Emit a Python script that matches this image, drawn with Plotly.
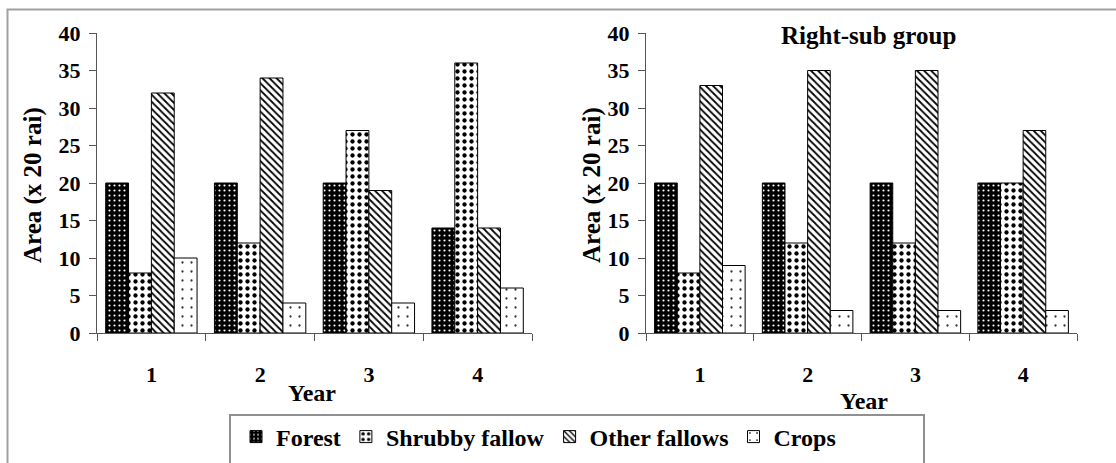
import plotly.graph_objects as go

W, H = 1116, 463
years = ["1", "2", "3", "4"]
series_names = ["Forest", "Shrubby fallow", "Other fallows", "Crops"]

left_forest = [20, 20, 20, 14]
left_shrubby = [8, 12, 27, 36]
left_other = [32, 34, 19, 14]
left_crops = [10, 4, 4, 6]

right_forest = [20, 20, 20, 20]
right_shrubby = [8, 12, 12, 20]
right_other = [33, 35, 35, 27]
right_crops = [9, 3, 3, 3]

y_ticks = [0, 5, 10, 15, 20, 25, 30, 35, 40]

FONT = "Liberation Serif, Times New Roman, serif"

patterns = [
    dict(shape=".", bgcolor="black", fgcolor="white", size=5, solidity=0.15, fillmode="replace"),
    dict(shape=".", bgcolor="white", fgcolor="black", size=7, solidity=0.3, fillmode="replace"),
    dict(shape="\\", bgcolor="white", fgcolor="black", size=5, solidity=0.35, fillmode="replace"),
    dict(shape=".", bgcolor="white", fgcolor="#333333", size=9, solidity=0.05, fillmode="replace"),
]


def px(x):
    return x / W


def py(y):
    return 1 - y / H


fig = go.Figure()
left = [left_forest, left_shrubby, left_other, left_crops]
right = [right_forest, right_shrubby, right_other, right_crops]
for i, name in enumerate(series_names):
    fig.add_trace(go.Bar(
        x=years, y=left[i], name=name, legendgroup=name, showlegend=True,
        marker=dict(color="white", pattern=patterns[i], line=dict(color="black", width=1)),
        xaxis="x", yaxis="y",
    ))
    fig.add_trace(go.Bar(
        x=years, y=right[i], name=name, legendgroup=name, showlegend=False,
        marker=dict(color="white", pattern=patterns[i], line=dict(color="black", width=1)),
        xaxis="x2", yaxis="y2",
    ))


def bold(size):
    return dict(family=FONT, size=size, color="black", weight="bold")


xcommon = dict(
    type="category", showline=True, linecolor="#555555", linewidth=1,
    ticks="outside", tickson="boundaries", ticklen=7, tickcolor="#555555",
    tickfont=bold(22), showgrid=False, zeroline=False, ticklabelstandoff=22,
    automargin=False,
)
ycommon = dict(
    range=[0, 40], tickvals=y_ticks, showline=True, linecolor="#555555", linewidth=1,
    ticks="outside", ticklen=7, tickcolor="#555555", tickfont=bold(22),
    showgrid=False, zeroline=False, ticklabelstandoff=4, automargin=False,
)

ydom = [py(333), py(33)]
fig.update_layout(
    width=W, height=H,
    margin=dict(l=0, r=0, t=0, b=0, autoexpand=False),
    paper_bgcolor="white", plot_bgcolor="white",
    font=dict(family=FONT, color="black"),
    barmode="group", bargap=0.16, bargroupgap=0,
    xaxis=dict(domain=[px(97), px(532)], anchor="y", **xcommon),
    yaxis=dict(domain=ydom, anchor="x", **ycommon),
    xaxis2=dict(domain=[px(646), px(1077)], anchor="y2", **xcommon),
    yaxis2=dict(domain=ydom, anchor="x2", **ycommon),
    showlegend=True,
    legend=dict(
        orientation="h", x=px(236), y=py(437), xanchor="left", yanchor="middle",
        font=bold(24),
        bgcolor="rgba(0,0,0,0)", borderwidth=0, traceorder="normal",
    ),
    shapes=[
        dict(type="rect", xref="paper", yref="paper", x0=px(7.5), x1=px(1400), y0=py(700), y1=py(9.5),
             line=dict(color="#a0a0a0", width=2), fillcolor="rgba(0,0,0,0)", layer="below"),
        dict(type="rect", xref="paper", yref="paper", x0=px(230), x1=px(924), y0=py(700), y1=py(415),
             line=dict(color="#909090", width=2), fillcolor="rgba(0,0,0,0)", layer="below"),
    ],
    annotations=[
        dict(text="Right-sub group", x=px(868), y=py(35), xref="paper", yref="paper",
             showarrow=False, xanchor="center", yanchor="middle", font=bold(25)),
        dict(text="Year", x=px(312), y=py(393), xref="paper", yref="paper",
             showarrow=False, xanchor="center", yanchor="middle", font=bold(24)),
        dict(text="Year", x=px(864), y=py(401), xref="paper", yref="paper",
             showarrow=False, xanchor="center", yanchor="middle", font=bold(24)),
        dict(text="Area (x 20 rai)", x=px(33), y=py(185), xref="paper", yref="paper",
             showarrow=False, xanchor="center", yanchor="middle", textangle=-90, font=bold(25)),
        dict(text="Area (x 20 rai)", x=px(592), y=py(185), xref="paper", yref="paper",
             showarrow=False, xanchor="center", yanchor="middle", textangle=-90, font=bold(25)),
    ],
)

fig.write_html("out.html", config={"displayModeBar": False},
               post_script="document.body.style.margin='0';document.body.style.overflow='hidden';")
